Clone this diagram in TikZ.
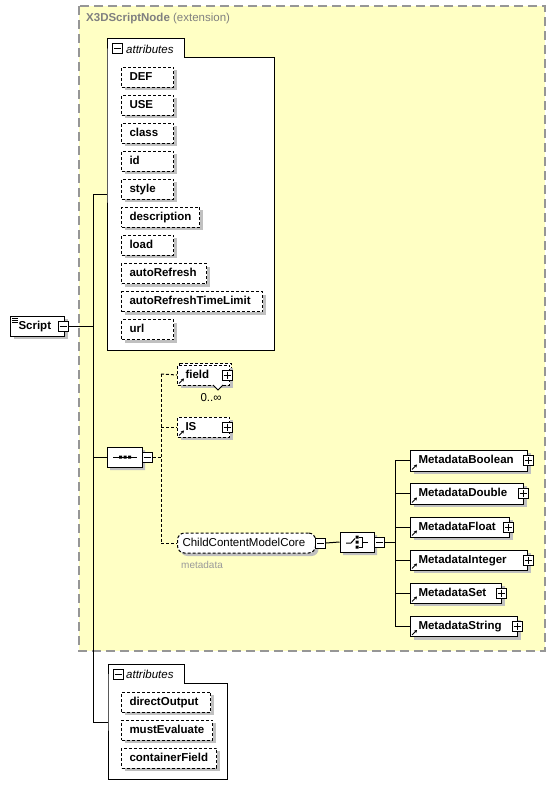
\documentclass[tikz,border=0pt]{standalone}
\usepackage{fontspec}
\setmainfont{Liberation Sans}
\usetikzlibrary{shadows,shapes.misc,arrows.meta}
\definecolor{extfill}{RGB}{255,255,196}
\definecolor{extline}{RGB}{150,150,150}
\definecolor{shadowgray}{RGB}{192,192,192}
\definecolor{hdrgray}{RGB}{128,128,128}
\newcommand\nf{\fontsize{11.5}{13.5}\selectfont}
\tikzset{
  ln/.style={line width=1pt, black},
  dln/.style={line width=1pt, black, dash pattern=on 3pt off 2pt},
  shd/.style={drop shadow={shadow xshift=3pt,shadow yshift=-3pt,fill=shadowgray,opacity=1}},
  attrbox/.style={draw, line width=1pt, dash pattern=on 3pt off 2pt, fill=white, shd,
    anchor=west, inner xsep=8pt, inner ysep=0pt, minimum height=20pt,
    text height=8.5pt, text depth=2.5pt, font=\nf\bfseries},
  elem/.style={draw, line width=1pt, fill=white, shd, anchor=west, inner xsep=8pt,
    inner ysep=0pt, minimum height=21pt, text height=8.5pt, text depth=2.5pt,
    font=\nf\bfseries},
  pmbox/.style={draw, line width=1pt, fill=white, minimum size=10pt, inner sep=0pt},
  octo/.style={chamfered rectangle, chamfered rectangle xsep=4pt, chamfered rectangle corners={north west,north east,south west,south east},
    chamfered rectangle sep=5pt, draw, line width=1pt, fill=white, shd, minimum width=35pt, minimum height=20pt, inner sep=0pt},
  panel/.style={draw, line width=1pt, fill=white},
}
\newcommand\attrnode[4]{\node[attrbox] (#1) at (121,#4) {\makebox[\dimexpr#3pt-16pt\relax][l]{#2}};}
\newcommand\elemnode[5]{\node[elem, minimum height=#5] (#1) at (410,#4) {\makebox[\dimexpr#3pt-16pt\relax][l]{#2}};}
\newcommand\plusat[3]{\node[pmbox] (#1) at (#2,#3) {};
  \draw[line width=1pt] ([xshift=2pt]#1.west) -- ([xshift=-2pt]#1.east)
    ([yshift=-2pt]#1.north) -- ([yshift=2pt]#1.south);}
\newcommand\minusat[3]{\node[pmbox] (#1) at (#2,#3) {};
  \draw[line width=1pt] ([xshift=2pt]#1.west) -- ([xshift=-2pt]#1.east);}
\newcommand\refarrow[1]{\draw[line width=1pt,-{Stealth[length=3pt,width=3.5pt]}]
  ([shift={(2pt,2pt)}]#1.south west) -- ++(5pt,5pt);}
\begin{document}
\begin{tikzpicture}[x=1pt,y=-1pt]
\useasboundingbox (0,0) rectangle (556,799);
% extension container
\fill[extfill] (79,6) rectangle (545,651);
\draw[extline, line width=1.2pt, dash pattern=on 9pt off 5pt] (79,6) rectangle (545,651);
\node[anchor=west, text=hdrgray, font=\nf, inner sep=0pt] (hdr) at (86,19) {\textbf{X3DScriptNode} (extension)};

% top attributes panel
\draw[panel] (107,58) -- (107,39) -- (184,39) -- (184,58) -- (274,58) -- (274,350) -- (107,350) -- cycle;
\minusat{tabm1}{117.5}{49}
\node[anchor=west, font=\nf\itshape, inner sep=0pt] (tab1) at (126,49) {attributes};
\attrnode{aDEF}{DEF}{52}{77.5}
\attrnode{aUSE}{USE}{52}{105.5}
\attrnode{aclass}{class}{52}{133.5}
\attrnode{aid}{id}{52}{161.5}
\attrnode{astyle}{style}{52}{189.5}
\attrnode{adesc}{description}{78}{217.5}
\attrnode{aload}{load}{52}{245.5}
\attrnode{aauto}{autoRefresh}{85}{273.5}
\attrnode{aautoT}{autoRefreshTimeLimit}{141}{301.5}
\attrnode{aurl}{url}{52}{329.5}

% bottom attributes panel
\draw[panel] (108,683) -- (108,664) -- (184,664) -- (184,683) -- (227,683) -- (227,779) -- (108,779) -- cycle;
\minusat{tabm2}{118}{674}
\node[anchor=west, font=\nf\itshape, inner sep=0pt] (tab2) at (126,674) {attributes};
\attrnode{adir}{directOutput}{89}{702}
\attrnode{amust}{mustEvaluate}{91}{730}
\attrnode{acont}{containerField}{95}{758}

% main connectors
\coordinate (vtop) at (93,195);
\coordinate (vbot) at (93,722);
\draw[ln] (vtop) -- (vbot);
\draw[ln] (vtop) -- (107,195);
\draw[ln] (vbot) -- (108,722);

% Script root
\node[elem, minimum height=20pt, minimum width=54pt, anchor=west] (script) at (10,326) {\makebox[38pt][l]{Script}};
\draw[line width=0.8pt] (12,318.5) -- (18,318.5) (12,320.5) -- (18,320.5) (12,322.5) -- (18,322.5);
\minusat{scriptm}{63}{326}
\draw[ln] (scriptm.east) -- (93,326);

% sequence
\node[octo] (seq) at (124.5,457) {};
\draw[line width=1pt] (113,457) -- (137,457);
\fill (119,455.5) rectangle (122,458.5) (123.5,455.5) rectangle (126.5,458.5) (128,455.5) rectangle (131,458.5);
\minusat{seqm}{147}{457}
\draw[ln] (93,457) -- (seq.west);

% optional children of sequence
\coordinate (sv1) at (161,374);
\coordinate (sv3) at (161,543);
\draw[dln] (seqm.east) -- (161,457);
\draw[dln] (sv1) -- (sv3);

% field (repeated)
\draw[line width=1pt, dash pattern=on 3pt off 2pt, fill=white] (179,363) rectangle (231,383);
\node[elem, dash pattern=on 3pt off 2pt, minimum height=20pt, minimum width=52pt] (field) at (177,375) {\makebox[36pt][l]{field}};
\refarrow{field}
\plusat{fieldp}{227}{375}
\draw[line width=0.8pt, fill=white] (213,385) -- (218,390) -- (223,385);
\node[font=\nf, inner sep=0pt] (fieldocc) at (211,398) {0..∞};
\draw[dln] (sv1) -- (field.west);

% IS
\node[elem, dash pattern=on 3pt off 2pt, minimum height=20pt, minimum width=52pt] (IS) at (177,427) {\makebox[36pt][l]{IS}};
\refarrow{IS}
\plusat{ISp}{227}{427}
\draw[dln] (161,427) -- (IS.west);

% ChildContentModelCore group
\node[draw, line width=1pt, dash pattern=on 3pt off 2pt, fill=white, shd, rounded corners=7pt,
  anchor=west, minimum width=138pt, minimum height=20pt, inner xsep=5pt, inner ysep=0pt,
  text height=8.5pt, text depth=2.5pt, font=\nf] (ccmc) at (177,543) {\makebox[128pt][l]{ChildContentModelCore}};
\node[anchor=west, font=\fontsize{10}{12}\selectfont, text=shadowgray!80!black, inner sep=0pt] (meta) at (181,565) {metadata};
\draw[dln] (sv3) -- (ccmc.west);
\minusat{ccmcm}{320.5}{543}

% choice
\node[octo, minimum width=34pt] (choice) at (357,542) {};
\draw[line width=1pt] (346,543) -- (351,543) -- (355,538.5);
\fill (355.5,535.5) rectangle (358.5,538.5) (355.5,540.5) rectangle (358.5,543.5) (355.5,545.5) rectangle (358.5,548.5);
\draw[line width=1pt] (358.5,537) -- (362,537) -- (362,547) -- (358.5,547) (362,542) -- (368,542);
\minusat{choicem}{379.5}{542.5}
\draw[ln] (ccmcm.east) -- (choice.west);

% choice children
\coordinate (cv1) at (395,460.5);
\coordinate (cv6) at (395,626.5);
\draw[ln] (choicem.east) -- (395,542.5);
\draw[ln] (cv1) -- (cv6);
\elemnode{mB}{MetadataBoolean}{117}{460.5}{21pt}
\elemnode{mD}{MetadataDouble}{113}{493.5}{21pt}
\elemnode{mF}{MetadataFloat}{99}{527}{20pt}
\elemnode{mI}{MetadataInteger}{117}{560}{20pt}
\elemnode{mS}{MetadataSet}{91}{593}{20pt}
\elemnode{mStr}{MetadataString}{107}{626.5}{20pt}
\foreach \n in {mB,mD,mF,mI,mS,mStr}{
  \refarrow{\n}
  \draw[ln] (395,0 |- \n.west) -- (\n.west);
}
\plusat{mBp}{528}{460.5}
\plusat{mDp}{523}{493.5}
\plusat{mFp}{508}{527}
\plusat{mIp}{528}{560}
\plusat{mSp}{501}{593}
\plusat{mStrp}{517}{626.5}
\end{tikzpicture}
\end{document}
